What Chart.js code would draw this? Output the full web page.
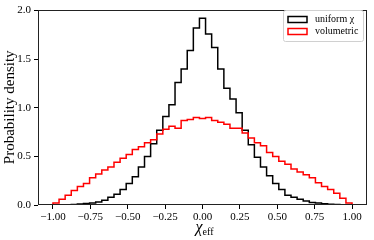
<!DOCTYPE html>
<html>
<head>
<meta charset="utf-8">
<script src="https://cdn.jsdelivr.net/npm/chart.js@4.4.0/dist/chart.umd.min.js"></script>
<style>
  body { margin: 0; background: #fff; }
  #wrap { width: 374px; height: 240px; }
</style>
</head>
<body>
<div id="wrap"><canvas id="histChart" width="374" height="240"></canvas></div>
<script>
// Histogramme : 49 classes entre -1 et 1
const histMin = -1;
const histMax = 1;

const uniformVals = [
    0.0, 0.001, 0.002, 0.005, 0.01, 0.015, 0.02, 0.03, 0.05, 0.08,
    0.11, 0.16, 0.22, 0.29, 0.39, 0.50, 0.63, 0.77, 0.91, 1.03,
    1.26, 1.40, 1.59, 1.82, 1.92,
    1.76, 1.62, 1.40, 1.20, 1.09, 0.95, 0.77, 0.62, 0.49, 0.39,
    0.30, 0.22, 0.16, 0.10, 0.08, 0.06, 0.04, 0.025, 0.02, 0.012,
    0.008, 0.004, 0.002, 0.001
];

const volumetricVals = [
    0.02, 0.06, 0.10, 0.15, 0.19, 0.22, 0.28, 0.32, 0.36, 0.39,
    0.44, 0.48, 0.52, 0.57, 0.60, 0.64, 0.67, 0.73, 0.78, 0.81,
    0.79, 0.87, 0.88, 0.90, 0.89,
    0.90, 0.87, 0.85, 0.83, 0.79, 0.79, 0.74, 0.69, 0.64, 0.61,
    0.54, 0.50, 0.45, 0.42, 0.37, 0.34, 0.31, 0.28, 0.23, 0.19,
    0.16, 0.12, 0.07, 0.02
];

const seriesLabels = ['uniform χ', 'volumetric'];
const seriesColors = ['#000000', '#ff0000'];

const xTicks = [-1.0, -0.75, -0.5, -0.25, 0.0, 0.25, 0.5, 0.75, 1.0];
const yTicks = [0.0, 0.5, 1.0, 1.5, 2.0];

const serif = '"Liberation Serif", "Times New Roman", serif';

// Contour en escalier façon histtype='step'
function stepPoints(vals) {
    const w = (histMax - histMin) / vals.length;
    const pts = [{ x: histMin, y: 0 }];
    vals.forEach((v, i) => pts.push({ x: histMin + i * w, y: v }));
    pts.push({ x: histMax, y: vals[vals.length - 1] });
    pts.push({ x: histMax, y: 0 });
    return pts;
}

function fmtMinus(s) {
    return s.replace('-', '\u2212');
}

// Cadre, titre de l'axe x et légende dessinés à la main
const decorPlugin = {
    id: 'decor',
    afterDraw(chart) {
        const ctx = chart.ctx;
        const a = chart.chartArea;
        ctx.save();

        // cadre complet
        ctx.strokeStyle = '#222';
        ctx.lineWidth = 1;
        ctx.strokeRect(Math.round(a.left) + 0.5, Math.round(a.top) + 0.5,
            Math.round(a.right - a.left) - 1, Math.round(a.bottom - a.top) - 1);

        // titre x : chi_eff
        ctx.fillStyle = '#000';
        ctx.textBaseline = 'alphabetic';
        ctx.font = 'italic 16px ' + serif;
        const wChi = ctx.measureText('χ').width;
        ctx.font = '10px ' + serif;
        const wEff = ctx.measureText('eff').width;
        const cx = (a.left + a.right) / 2 + 2;
        const x0 = cx - (wChi + wEff) / 2;
        ctx.font = 'italic 16px ' + serif;
        ctx.fillText('χ', x0, 232);
        ctx.font = '10px ' + serif;
        ctx.fillText('eff', x0 + wChi, 235);

        // légende
        const lx = 283.5, ly = 10.5, lw = 80, lh = 31;
        ctx.beginPath();
        ctx.roundRect(lx, ly, lw, lh, 2);
        ctx.fillStyle = 'rgba(255,255,255,0.8)';
        ctx.fill();
        ctx.strokeStyle = '#d0d0d0';
        ctx.lineWidth = 1;
        ctx.stroke();

        ctx.font = '10px ' + serif;
        ctx.textBaseline = 'middle';
        seriesLabels.forEach((label, i) => {
            const yy = 19.5 + i * 12;
            ctx.strokeStyle = seriesColors[i];
            ctx.lineWidth = 1.5;
            ctx.strokeRect(288, yy - 3, 19, 6);
            ctx.fillStyle = '#000';
            ctx.fillText(label, 315, yy);
        });

        ctx.restore();
    }
};

document.addEventListener('DOMContentLoaded', function() {
    Chart.defaults.font.family = serif;
    Chart.defaults.color = '#000';

    const ctx = document.getElementById('histChart').getContext('2d');
    new Chart(ctx, {
        type: 'line',
        data: {
            datasets: [{
                label: seriesLabels[0],
                data: stepPoints(uniformVals),
                borderColor: seriesColors[0],
                borderWidth: 1.5,
                stepped: 'before',
                pointRadius: 0,
                fill: false,
                order: 1
            }, {
                label: seriesLabels[1],
                data: stepPoints(volumetricVals),
                borderColor: seriesColors[1],
                borderWidth: 1.5,
                stepped: 'before',
                pointRadius: 0,
                fill: false,
                order: 0
            }]
        },
        options: {
            responsive: false,
            animation: false,
            layout: { padding: { top: 6, right: 7, left: 0, bottom: 0 } },
            plugins: {
                legend: { display: false },
                tooltip: { enabled: false }
            },
            scales: {
                x: {
                    type: 'linear',
                    min: -1.1,
                    max: 1.1,
                    afterBuildTicks: function(scale) {
                        scale.ticks = xTicks.map(v => ({ value: v }));
                    },
                    afterFit: function(scale) {
                        scale.height = 35;
                    },
                    border: { display: false },
                    grid: {
                        drawOnChartArea: false,
                        color: '#000',
                        tickLength: 4,
                        tickWidth: 1
                    },
                    ticks: {
                        font: { size: 11 },
                        padding: 2,
                        maxRotation: 0,
                        autoSkip: false,
                        callback: function(value) {
                            return fmtMinus(Number(value).toFixed(2));
                        }
                    }
                },
                y: {
                    min: 0,
                    max: 2.01,
                    afterBuildTicks: function(scale) {
                        scale.ticks = yTicks.map(v => ({ value: v }));
                    },
                    afterFit: function(scale) {
                        scale.width = 38;
                    },
                    border: { display: false },
                    grid: {
                        drawOnChartArea: false,
                        color: '#000',
                        tickLength: 4,
                        tickWidth: 1
                    },
                    title: {
                        display: true,
                        text: 'Probability density',
                        font: { size: 15 },
                        padding: { top: 1, bottom: 0 }
                    },
                    ticks: {
                        font: { size: 11 },
                        padding: 3,
                        autoSkip: false,
                        callback: function(value) {
                            return Number(value).toFixed(1);
                        }
                    }
                }
            }
        },
        plugins: [decorPlugin]
    });
});
</script>
</body>
</html>
